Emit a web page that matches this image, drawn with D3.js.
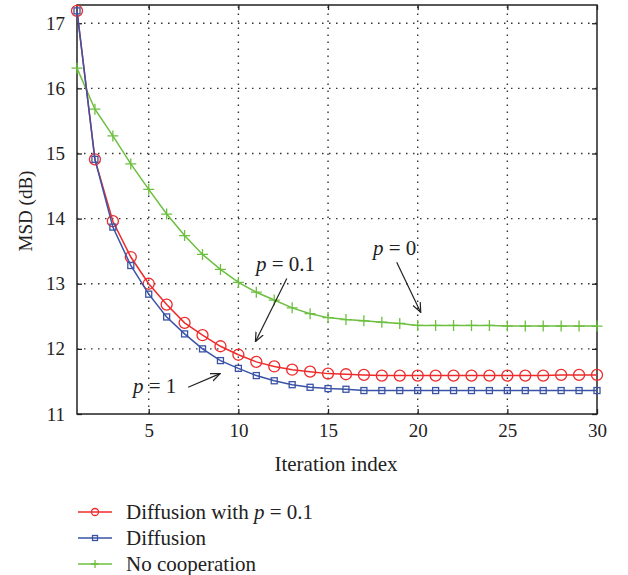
<!DOCTYPE html>
<html>
<head>
<meta charset="utf-8">
<script src="https://cdn.jsdelivr.net/npm/d3@7"></script>
<style>
  html, body { margin: 0; padding: 0; background: #fff; }
  svg { display: block; font-family: "Liberation Serif", "DejaVu Serif", serif; }
</style>
</head>
<body>
<svg id="chart" width="628" height="575"></svg>
<script>
// Iteration index 1..30
const iterations = d3.range(1, 31);

// MSD (dB) per iteration
const diffusionP01 = [17.19, 14.91, 13.96, 13.41, 13.00, 12.68, 12.40, 12.21, 12.04, 11.91,
                      11.80, 11.73, 11.68, 11.65, 11.62, 11.61, 11.60, 11.59, 11.59, 11.59,
                      11.59, 11.59, 11.59, 11.59, 11.59, 11.59, 11.59, 11.60, 11.60, 11.60];
const diffusion    = [17.19, 14.91, 13.87, 13.28, 12.84, 12.49, 12.23, 12.00, 11.82, 11.70,
                      11.59, 11.51, 11.45, 11.41, 11.39, 11.38, 11.36, 11.36, 11.36, 11.36,
                      11.36, 11.36, 11.36, 11.36, 11.36, 11.36, 11.36, 11.36, 11.36, 11.36];
const noCooperation = [16.31, 15.68, 15.27, 14.84, 14.45, 14.07, 13.74, 13.45, 13.22, 13.02,
                       12.87, 12.75, 12.63, 12.54, 12.48, 12.45, 12.43, 12.41, 12.39, 12.36,
                       12.36, 12.36, 12.36, 12.36, 12.35, 12.35, 12.35, 12.35, 12.35, 12.35];

const xTicks = [5, 10, 15, 20, 25, 30];
const yTicks = [11, 12, 13, 14, 15, 16, 17];

const seriesNames = ["Diffusion with p = 0.1", "Diffusion", "No cooperation"];
const seriesColors = ["#ee2b2b", "#3a53a6", "#6cbf3f"];
const seriesMarkers = ["circle", "square", "plus"];
const seriesValues = [diffusionP01, diffusion, noCooperation];

// Arrow annotations in data coordinates
const annotations = [
  { label: "0.1", from: [12.7, 13.08], to: [10.95, 12.11] },
  { label: "0",   from: [18.83, 13.33], to: [20.17, 12.56] },
  { label: "1",   from: [7.2, 11.41],  to: [8.98, 11.62] }
];

const svg = d3.select("#chart");
const plotLeft = 77, plotRight = 597, plotTop = 5, plotBottom = 414;

const x = d3.scaleLinear().domain([1, 30]).range([plotLeft, plotRight]);
const y = d3.scaleLinear().domain([11, 17.28]).range([plotBottom, plotTop]);

// Dotted grid
const grid = svg.append("g").attr("stroke", "#333").attr("stroke-width", 1.4)
  .attr("stroke-dasharray", "1.5,5.5");
grid.selectAll("line.v").data(xTicks.filter(d => d < 30)).join("line").attr("class", "v")
  .attr("x1", d => x(d)).attr("x2", d => x(d)).attr("y1", plotBottom).attr("y2", plotTop);
grid.selectAll("line.h").data(yTicks.filter(d => d > 11)).join("line").attr("class", "h")
  .attr("y1", d => y(d)).attr("y2", d => y(d)).attr("x1", plotLeft).attr("x2", plotRight);

// Axes with inward ticks
const tickFont = 19;
const labelFont = 21;
const xAxis = svg.append("g").attr("transform", `translate(0,${plotBottom})`)
  .call(d3.axisBottom(x).tickValues(xTicks).tickSizeInner(-5).tickSizeOuter(0).tickPadding(10));
const xAxisTop = svg.append("g").attr("transform", `translate(0,${plotTop})`)
  .call(d3.axisTop(x).tickValues(xTicks).tickSizeInner(-5).tickSizeOuter(0).tickFormat(""));
const yAxis = svg.append("g").attr("transform", `translate(${plotLeft},0)`)
  .call(d3.axisLeft(y).tickValues(yTicks).tickFormat(d3.format("d"))
    .tickSizeInner(-5).tickSizeOuter(0).tickPadding(12));
const yAxisRight = svg.append("g").attr("transform", `translate(${plotRight},0)`)
  .call(d3.axisRight(y).tickValues(yTicks).tickSizeInner(-5).tickSizeOuter(0).tickFormat(""));

[xAxis, xAxisTop, yAxis, yAxisRight].forEach(g => {
  g.select(".domain").remove();
  g.selectAll("line").attr("stroke", "#222").attr("stroke-width", 1.3);
  g.selectAll("text").attr("font-family", "Liberation Serif, serif")
    .attr("font-size", tickFont).attr("fill", "#222");
});

// Frame
svg.append("rect").attr("x", plotLeft).attr("y", plotTop)
  .attr("width", plotRight - plotLeft).attr("height", plotBottom - plotTop)
  .attr("fill", "none").attr("stroke", "#222").attr("stroke-width", 1.5);

// Axis titles
svg.append("text").attr("x", 336).attr("y", 471)
  .attr("text-anchor", "middle").attr("font-size", labelFont).attr("fill", "#222")
  .text("Iteration index");
svg.append("text").attr("transform", `translate(32,211) rotate(-90)`)
  .attr("text-anchor", "middle").attr("font-size", 19).attr("fill", "#222")
  .text("MSD (dB)");

// Marker drawing helper
function drawMarker(sel, type, color, size) {
  if (type === "circle") {
    sel.append("circle").attr("r", size).attr("fill", "none")
      .attr("stroke", color).attr("stroke-width", 1.3);
  } else if (type === "square") {
    sel.append("rect").attr("x", -size).attr("y", -size)
      .attr("width", 2 * size).attr("height", 2 * size)
      .attr("fill", "none").attr("stroke", color).attr("stroke-width", 1.3);
  } else {
    sel.append("path").attr("d", `M${-size},0H${size}M0,${-size}V${size}`)
      .attr("stroke", color).attr("stroke-width", 1.3).attr("fill", "none");
  }
}

const line = d3.line().x((d, i) => x(iterations[i])).y(d => y(d));
const markerSizes = [5.5, 3, 5.5];

// Draw series back to front: green, red, blue
[2, 0, 1].forEach(k => {
  const g = svg.append("g");
  g.append("path").datum(seriesValues[k]).attr("d", line)
    .attr("fill", "none").attr("stroke", seriesColors[k]).attr("stroke-width", 1.5);
  g.selectAll("g.m").data(seriesValues[k]).join("g").attr("class", "m")
    .attr("transform", (d, i) => `translate(${x(iterations[i])},${y(d)})`)
    .each(function () { drawMarker(d3.select(this), seriesMarkers[k], seriesColors[k], markerSizes[k]); });
});

// Arrowhead
svg.append("defs").append("marker").attr("id", "arrow")
  .attr("viewBox", "0 0 10 10").attr("refX", 9.5).attr("refY", 5)
  .attr("markerWidth", 10).attr("markerHeight", 10).attr("markerUnits", "userSpaceOnUse")
  .attr("orient", "auto")
  .append("path").attr("d", "M0,1 L9.5,5 L0,9").attr("fill", "none")
  .attr("stroke", "#222").attr("stroke-width", 1.2);

// Annotations
const ann = svg.append("g");
annotations.forEach(a => {
  ann.append("line")
    .attr("x1", x(a.from[0])).attr("y1", y(a.from[1]))
    .attr("x2", x(a.to[0])).attr("y2", y(a.to[1]))
    .attr("stroke", "#222").attr("stroke-width", 1.2).attr("marker-end", "url(#arrow)");
});
const labelPos = [[256, 271], [373, 255], [133, 393]];
annotations.forEach((a, i) => {
  const t = ann.append("text").attr("x", labelPos[i][0]).attr("y", labelPos[i][1])
    .attr("font-size", labelFont).attr("fill", "#222");
  t.append("tspan").attr("font-style", "italic").text("p");
  t.append("tspan").text(" = " + a.label);
});

// Legend
const legend = svg.append("g");
const rowY = [512, 538, 564];
seriesNames.forEach((name, k) => {
  const r = legend.append("g").attr("transform", `translate(0,${rowY[k]})`);
  r.append("line").attr("x1", 78).attr("x2", 112).attr("y1", 0).attr("y2", 0)
    .attr("stroke", seriesColors[k]).attr("stroke-width", 1.5);
  const m = r.append("g").attr("transform", "translate(95,0)");
  drawMarker(m, seriesMarkers[k], seriesColors[k], [3.5, 2.5, 4][k]);
  const t = r.append("text").attr("x", 126).attr("y", 7)
    .attr("font-size", labelFont).attr("fill", "#222");
  if (k === 0) {
    t.append("tspan").text("Diffusion with ");
    t.append("tspan").attr("font-style", "italic").text("p");
    t.append("tspan").text(" = 0.1");
  } else {
    t.text(name);
  }
});
</script>
</body>
</html>
